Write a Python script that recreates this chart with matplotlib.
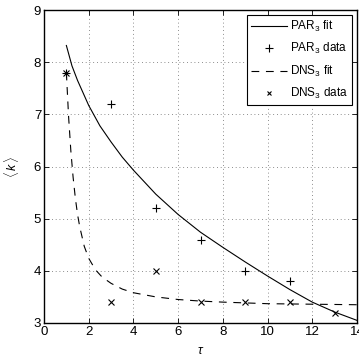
import matplotlib
matplotlib.use('Agg')
import matplotlib.pyplot as plt

plt.rcParams['font.family'] = ['Liberation Sans', 'DejaVu Sans']
plt.rcParams['mathtext.fontset'] = 'custom'
plt.rcParams['mathtext.rm'] = 'Liberation Sans'
plt.rcParams['mathtext.it'] = 'Liberation Sans:italic'

# fitted curves
par_fit_x = [1.0, 1.25, 1.5, 2.0, 2.5, 3.0, 3.5, 4.0, 5.0, 6.0, 7.0, 8.0, 9.0, 10.0, 11.0, 12.0, 13.0, 14.0]
par_fit_y = [8.32, 7.93, 7.65, 7.17, 6.78, 6.47, 6.18, 5.93, 5.47, 5.08, 4.74, 4.45, 4.17, 3.90, 3.64, 3.40, 3.21, 3.05]

dns_fit_x = [1.0, 1.1, 1.2, 1.3, 1.4, 1.5, 1.6, 1.8, 2.0, 2.3, 2.6, 3.0, 3.5, 4.0, 5.0, 6.0, 7.0, 8.0, 10.0, 12.0, 14.0]
dns_fit_y = [7.80, 6.95, 6.30, 5.80, 5.40, 5.08, 4.84, 4.47, 4.24, 4.02, 3.88, 3.76, 3.65, 3.58, 3.50, 3.45, 3.42, 3.40, 3.37, 3.36, 3.35]

# measured points
par_tau = [1, 3, 5, 7, 9, 11]
par_k = [7.8, 7.2, 5.2, 4.6, 4.0, 3.8]

dns_tau = [1, 3, 5, 7, 9, 11, 13]
dns_k = [7.8, 3.4, 4.0, 3.4, 3.4, 3.4, 3.2]

fig = plt.figure(figsize=(3.59, 3.58), dpi=100)
ax = fig.add_axes([0.1226, 0.0978, 0.8718, 0.8742])

ax.plot(par_fit_x, par_fit_y, color='black', linewidth=0.8, label='PAR$_3$ fit')
ax.plot(par_tau, par_k, linestyle='none', marker='+', markersize=6, markeredgewidth=0.8,
        color='black', label='PAR$_3$ data')
ax.plot(dns_fit_x, dns_fit_y, color='black', linewidth=0.8, linestyle=(0, (7, 6)), label='DNS$_3$ fit')
ax.plot(dns_tau, dns_k, linestyle='none', marker='x', markersize=4.5, markeredgewidth=0.8,
        color='black', label='DNS$_3$ data')

ax.set_xlim(0, 14)
ax.set_ylim(3, 9)
ax.set_xticks(range(0, 15, 2))
ax.set_yticks(range(3, 10))
ax.grid(True, linestyle=(0, (1, 3.5)), color='black', linewidth=0.6, alpha=0.6)
ax.tick_params(direction='in', top=True, right=True, length=3.5, width=0.6, labelsize=9.5, pad=2)
for s in ax.spines.values():
    s.set_linewidth(1.0)

ax.set_xlabel(r'$\tau$', fontsize=9, labelpad=5)
ax.set_ylabel(r'$\langle\, k \,\rangle$', fontsize=9, labelpad=9)

leg = ax.legend(loc='upper right', fontsize=8.5, handlelength=3.1, handletextpad=0.25,
                fancybox=False, framealpha=1, edgecolor='black', borderaxespad=0.45,
                labelspacing=0.62, borderpad=0.3)
leg.get_frame().set_linewidth(0.8)
# smaller cross in the legend, as in the reference
leg.legend_handles[3].set_markersize(3.5)

plt.savefig('out.png', dpi=100)
